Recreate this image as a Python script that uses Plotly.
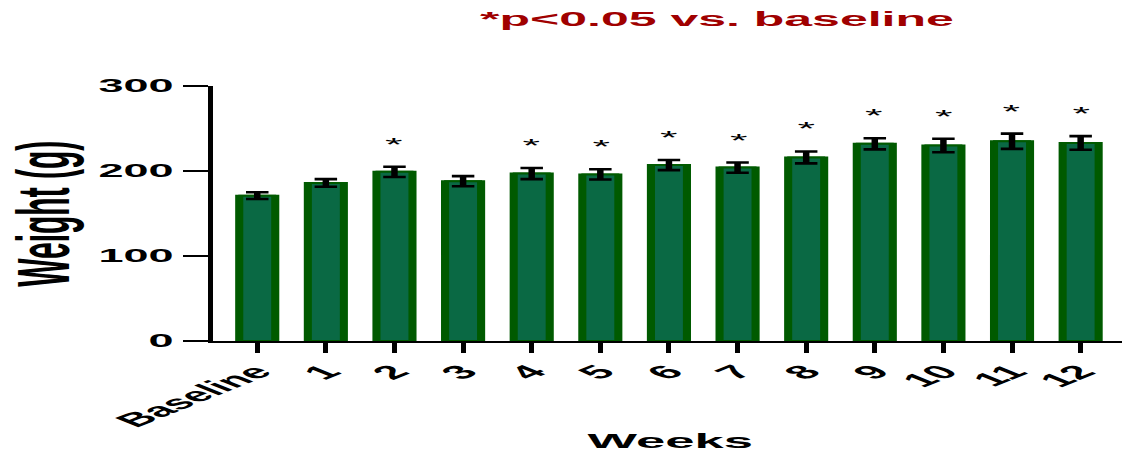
import plotly.graph_objects as go

# Body weight over the study, mean ± SEM
weeks = ["Baseline", "1", "2", "3", "4", "5", "6", "7", "8", "9", "10", "11", "12"]
weight_mean = [171, 186, 199, 188, 197, 196, 207, 204, 216, 232, 230, 235, 233]
weight_sem = [4, 4.5, 6, 6, 6.5, 6, 6, 6, 7, 6.5, 8, 9, 8]
significant = [False, False, True, False, True, True, True, True, True, True, True, True, True]
y_ticks = [0, 100, 200, 300]

OUTER = "#005a00"
INNER = "#0a6944"
FONT = "Liberation Sans, Arial, sans-serif"
STRETCH = 2.5          # horizontal stretch applied to the finished drawing
BASE_W, BASE_H = 449, 457

fig = go.Figure()

# outer dark-green bar
fig.add_trace(go.Bar(
    x=weeks, y=weight_mean, width=0.57,
    marker=dict(color=OUTER, line=dict(color=OUTER, width=2)),
    hoverinfo="skip", showlegend=False,
))
# inner lighter bar carrying the error bars
fig.add_trace(go.Bar(
    x=weeks, y=weight_mean, width=0.48,
    marker=dict(color=INNER, line=dict(color=OUTER, width=2)),
    error_y=dict(type="data", array=weight_sem, visible=True,
                 color="black", thickness=2.6, width=4.5),
    showlegend=False,
))

# significance markers
for w, m, s, sig in zip(weeks, weight_mean, weight_sem, significant):
    if sig:
        fig.add_annotation(x=w, y=m + s, xref="x", yref="y", text="*",
                           showarrow=False, yanchor="middle", yshift=22,
                           font=dict(family=FONT, size=18, color="black"))

fig.add_annotation(text="*p<0.05 vs. baseline", xref="paper", yref="paper",
                   x=0.556, y=1.262, showarrow=False, xanchor="center", yanchor="middle",
                   font=dict(family=FONT, size=20, color="#a00000", weight="bold"))
fig.add_annotation(text="Weight (g)", xref="paper", yref="paper",
                   x=-0.186, y=0.5, showarrow=False, textangle=-90,
                   xanchor="center", yanchor="middle",
                   font=dict(family=FONT, size=30, color="black", weight="bold"))
fig.add_annotation(text="Weeks", xref="paper", yref="paper",
                   x=0.504, y=-0.39, showarrow=False, xanchor="center", yanchor="middle",
                   font=dict(family=FONT, size=21, color="black", weight="bold"))

fig.update_layout(
    width=BASE_W, height=BASE_H,
    margin=dict(l=85, r=0, t=86, b=116, autoexpand=False),
    barmode="overlay",
    plot_bgcolor="white", paper_bgcolor="white",
    xaxis=dict(
        type="category", range=[-0.652, 12.61],
        showline=True, linecolor="black", linewidth=2,
        ticks="outside", ticklen=10, tickwidth=2, tickcolor="black",
        tickangle=-45, showgrid=False, zeroline=False,
        tickfont=dict(family=FONT, size=19, color="black", weight="bold"),
    ),
    yaxis=dict(
        range=[0, 300], tickvals=y_ticks,
        showline=True, linecolor="black", linewidth=2,
        ticks="outside", ticklen=10, tickwidth=2, tickcolor="black",
        showgrid=False, zeroline=False,
        tickfont=dict(family=FONT, size=18, color="black", weight="bold"),
    ),
)

stretch_js = """
document.body.style.margin = '0';
var gd = document.getElementById('{plot_id}');
gd.style.transformOrigin = '0 0';
gd.style.transform = 'scaleX(%s)';
""" % STRETCH

fig.write_html("out.html", post_script=stretch_js)
